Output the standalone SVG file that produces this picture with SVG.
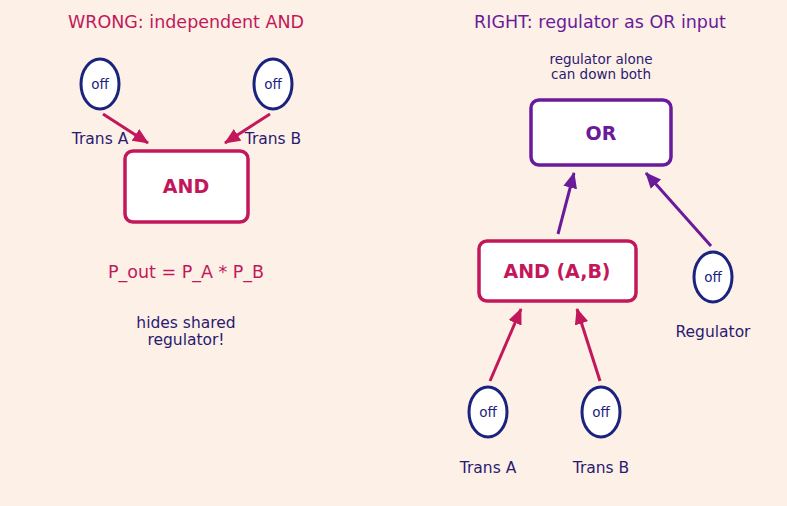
<svg xmlns="http://www.w3.org/2000/svg" width="787" height="506" viewBox="0 0 787 506">
<style>
text{font-family:"DejaVu Sans","Liberation Sans",sans-serif;text-anchor:middle;dominant-baseline:central}
.off{fill:#fff;stroke:#1a237e;stroke-width:3}
.offt{font-size:13.5px;fill:#1a237e}
.lbl{font-size:15.5px;fill:#2a1a72}
.boxc{fill:#fff;stroke:#c2185b;stroke-width:3.5}
.boxp{fill:#fff;stroke:#6a1b9a;stroke-width:3.5}
.bt{font-size:19px;font-weight:bold}
.ac{stroke:#c2185b;stroke-width:3;fill:none}
.ap{stroke:#6a1b9a;stroke-width:3;fill:none}
</style>
<defs>
<marker id="hc" markerUnits="userSpaceOnUse" viewBox="0 0 16 14" refX="15" refY="7" markerWidth="16" markerHeight="14" orient="auto"><path d="M0,0 L16,7 L0,14 z" fill="#c2185b"/></marker>
<marker id="hp" markerUnits="userSpaceOnUse" viewBox="0 0 16 14" refX="15" refY="7" markerWidth="16" markerHeight="14" orient="auto"><path d="M0,0 L16,7 L0,14 z" fill="#6a1b9a"/></marker>
</defs>
<rect width="787" height="506" fill="#fdf0e6"/>
<text x="186" y="22" style="font-size:17.5px;fill:#c2185b">WRONG: independent AND</text>
<text x="600" y="22" style="font-size:17.5px;fill:#6a1b9a">RIGHT: regulator as OR input</text>
<g id="connectors">
<line class="ac" x1="103" y1="114" x2="148" y2="143" marker-end="url(#hc)"/>
<line class="ac" x1="270" y1="114" x2="225" y2="143" marker-end="url(#hc)"/>
<line class="ap" x1="558" y1="234" x2="574" y2="173" marker-end="url(#hp)"/>
<line class="ap" x1="711" y1="246" x2="646" y2="173" marker-end="url(#hp)"/>
<line class="ac" x1="490" y1="381" x2="521" y2="309" marker-end="url(#hc)"/>
<line class="ac" x1="600" y1="381" x2="577" y2="309" marker-end="url(#hc)"/>
</g>
<g id="wA"><ellipse class="off" cx="100" cy="84" rx="19" ry="25"/><text class="offt" x="100" y="84">off</text><text class="lbl" x="100" y="139">Trans A</text></g>
<g id="wB"><ellipse class="off" cx="273" cy="84" rx="19" ry="25"/><text class="offt" x="273" y="84">off</text><text class="lbl" x="273" y="139">Trans B</text></g>
<g id="wAND"><rect class="boxc" x="125" y="151" width="123" height="71" rx="8"/><text class="bt" x="186" y="186" fill="#c2185b">AND</text></g>
<g id="formula"><text x="186" y="272" style="font-size:17.5px;fill:#c2185b">P_out = P_A * P_B</text></g>
<g id="note1"><text class="lbl" x="186" y="323">hides shared</text><text class="lbl" x="186" y="340">regulator!</text></g>
<g id="note2"><text x="601" y="59" style="font-size:13.5px;fill:#2a1a72">regulator alone</text><text x="601" y="74" style="font-size:13.5px;fill:#2a1a72">can down both</text></g>
<g id="rOR"><rect class="boxp" x="531" y="100" width="140" height="65" rx="8"/><text class="bt" x="601" y="133" fill="#6a1b9a">OR</text></g>
<g id="rAND"><rect class="boxc" x="479" y="241" width="157" height="60" rx="8"/><text class="bt" x="557" y="271" fill="#c2185b">AND (A,B)</text></g>
<g id="rReg"><ellipse class="off" cx="713" cy="277" rx="19" ry="25"/><text class="offt" x="713" y="277">off</text><text class="lbl" x="713" y="332">Regulator</text></g>
<g id="rA"><ellipse class="off" cx="488" cy="412" rx="19" ry="25"/><text class="offt" x="488" y="412">off</text><text class="lbl" x="488" y="468">Trans A</text></g>
<g id="rB"><ellipse class="off" cx="601" cy="412" rx="19" ry="25"/><text class="offt" x="601" y="412">off</text><text class="lbl" x="601" y="468">Trans B</text></g>
</svg>
